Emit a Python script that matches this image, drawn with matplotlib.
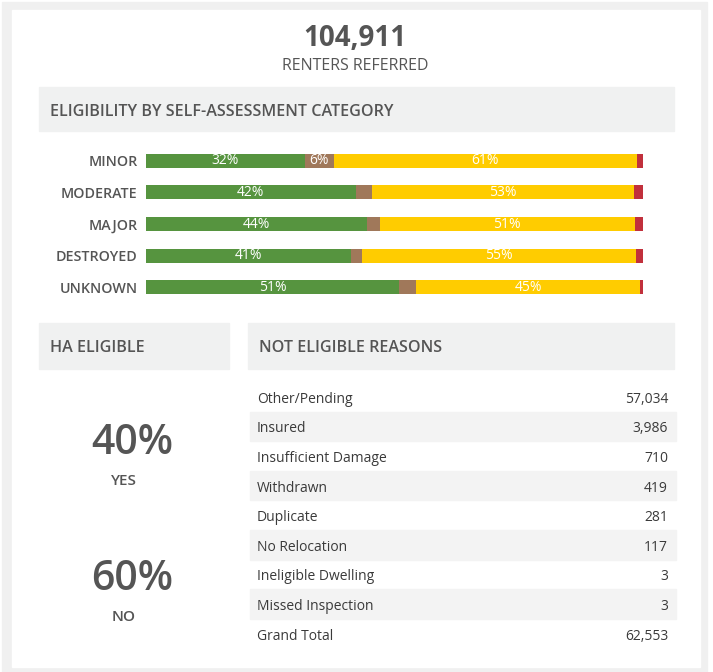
import matplotlib as mpl
import matplotlib.pyplot as plt
from matplotlib.patches import Rectangle
import numpy as np

mpl.rcParams.update({
    "font.family": ["Open Sans", "DejaVu Sans"],
})

W, H = 713, 672
TXT = "#555555"
PANEL = "#f0f1f1"
GREEN = "#56943f"
BROWN = "#a0785a"
YELLOW = "#ffcc00"
RED = "#c1303c"

# headline
total_referred = "104,911"

# eligibility by self-assessment category (percent of row)
categories = ["MINOR", "MODERATE", "MAJOR", "DESTROYED", "UNKNOWN"]
eligible = [32.0, 42.2, 44.4, 41.2, 51.0]
pending = [5.8, 3.3, 2.6, 2.3, 3.4]
not_eligible = [61.0, 52.6, 51.3, 55.1, 45.0]
other = [1.2, 1.9, 1.7, 1.4, 0.6]

# HA eligible split
ha_labels = ["YES", "NO"]
ha_values = ["40%", "60%"]

# not eligible reasons
reasons = ["Other/Pending", "Insured", "Insufficient Damage", "Withdrawn",
           "Duplicate", "No Relocation", "Ineligible Dwelling",
           "Missed Inspection", "Grand Total"]
reason_counts = [57034, 3986, 710, 419, 281, 117, 3, 3, 62553]

fig = plt.figure(figsize=(W / 100, H / 100), dpi=100)
bg = fig.add_axes([0, 0, 1, 1])
bg.set_xlim(0, W)
bg.set_ylim(H, 0)
bg.axis("off")

# frame + card
bg.add_patch(Rectangle((2, 2), 705, 670, color="#f0f0f0", zorder=0))
bg.add_patch(Rectangle((12, 10), 688, 657, color="white", zorder=1))

bg.text(355, 38, total_referred, ha="center", va="center", fontsize=20,
        fontweight="bold", color=TXT, zorder=3)
bg.text(355, 66, "RENTERS REFERRED", ha="center", va="center", fontsize=11.5,
        color=TXT, zorder=3)

# section headers
for x0, y0, w, h, label in [(39, 87, 635, 44, "ELIGIBILITY BY SELF-ASSESSMENT CATEGORY"),
                            (39, 323, 190, 46, "HA ELIGIBLE"),
                            (248, 323, 426, 46, "NOT ELIGIBLE REASONS")]:
    bg.add_patch(Rectangle((x0, y0), w, h, color=PANEL, zorder=2))
    bg.text(x0 + 11, y0 + h / 2 + 2.5, label, ha="left", va="center", fontsize=11.6,
            fontweight="semibold", color=TXT, zorder=3)

# stacked bars
ax = fig.add_axes([146 / W, 1 - 303 / H, (643 - 146) / W, (303 - 145) / H])
y = np.arange(len(categories))
left = np.zeros(len(categories))
for vals, col in [(eligible, GREEN), (pending, BROWN), (not_eligible, YELLOW), (other, RED)]:
    vals = np.array(vals)
    ax.barh(y, vals, left=left, height=0.44, color=col, linewidth=0)
    for yi, l, v in zip(y, left, vals):
        if v >= 5:
            ax.text(l + v / 2, yi, f"{v:.0f}%", ha="center", va="center",
                    fontsize=10, color="white")
    left += vals
ax.set_xlim(0, 100)
ax.set_ylim(len(categories) - 0.5, -0.5)
ax.set_yticks(y)
ax.set_yticklabels(categories, fontsize=10.3, fontweight="semibold", color=TXT)
ax.tick_params(axis="y", length=0, pad=6)
ax.set_xticks([])
for s in ax.spines.values():
    s.set_visible(False)
ax.patch.set_alpha(0)

# HA eligible
for (lab, val), yc in zip(zip(ha_labels, ha_values), [443, 579]):
    bg.text(132, yc, val, ha="center", va="center", fontsize=29.5,
            fontweight="semibold", color=TXT, zorder=3)
    bg.text(124, yc + 38, lab, ha="center", va="center", fontsize=11,
            fontweight="semibold", color=TXT, zorder=3)

# reasons table
row_top, row_h = 382, 29.6
for i, (r, c) in enumerate(zip(reasons, reason_counts)):
    yt = row_top + i * row_h
    if i % 2 == 1:
        bg.add_patch(Rectangle((250, yt), 426, row_h, color="#f3f3f3", zorder=2))
    bg.text(257, yt + row_h / 2 + 2.5, r, ha="left", va="center", fontsize=10,
            color="#3a3a3a", zorder=3)
    bg.text(668, yt + row_h / 2 + 2.5, f"{c:,}", ha="right", va="center", fontsize=10,
            color="#3a3a3a", zorder=3)

fig.savefig("out.png", dpi=100)
